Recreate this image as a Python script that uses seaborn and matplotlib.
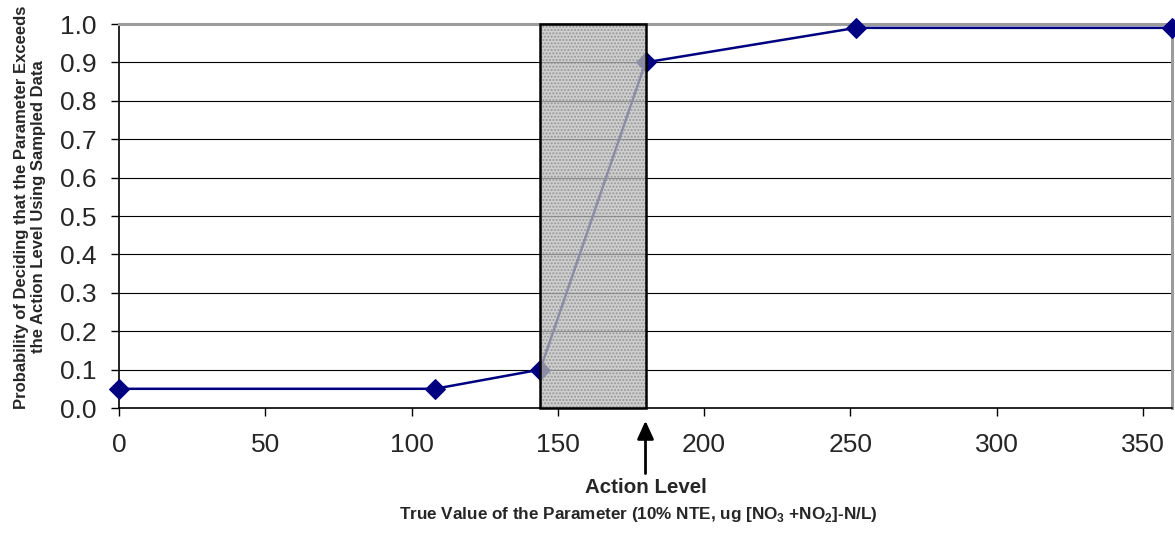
import matplotlib
matplotlib.use("Agg")
import matplotlib.pyplot as plt
import seaborn as sns
import pandas as pd
from matplotlib.patches import Rectangle

true_values = [0, 108, 144, 180, 252, 360]
probabilities = [0.05, 0.05, 0.10, 0.90, 0.99, 0.99]
gray_region = [144, 180]
action_level = 180
x_ticks = [0, 50, 100, 150, 200, 250, 300, 350]
y_ticks = [0.0, 0.1, 0.2, 0.3, 0.4, 0.5, 0.6, 0.7, 0.8, 0.9, 1.0]

sns.set_style("white")
plt.rcParams['font.family'] = ['Liberation Sans', 'DejaVu Sans']
plt.rcParams['mathtext.fontset'] = 'custom'
plt.rcParams['mathtext.rm'] = 'Liberation Sans'
plt.rcParams['mathtext.bf'] = 'Liberation Sans:bold'

df = pd.DataFrame({"x": true_values, "y": probabilities})

fig = plt.figure(figsize=(11.75, 5.33), dpi=100)
ax = fig.add_axes([119/1175, 1-408/533, 1053/1175, 384/533])

for yv in y_ticks[1:-1]:
    ax.axhline(yv, color='black', lw=0.8, zorder=1)

sns.lineplot(data=df, x="x", y="y", ax=ax, color='#000080', marker='D',
             markersize=10, markeredgecolor='#000080', lw=1.8, zorder=3, clip_on=False)
ax.set_xlabel('')
ax.set_ylabel('')

# shaded gray region (stippled)
rect = Rectangle((gray_region[0], 0), gray_region[1]-gray_region[0], 1.0,
                 facecolor='#c0c0c0', edgecolor='#868686', hatch='.....', lw=0,
                 alpha=0.75, zorder=4)
ax.add_patch(rect)
border = Rectangle((gray_region[0], 0), gray_region[1]-gray_region[0], 1.0,
                   facecolor='none', edgecolor='black', lw=1.8, zorder=5, clip_on=False)
ax.add_patch(border)

ax.set_xlim(0, 360)
ax.set_ylim(0, 1.0)
ax.set_xticks(x_ticks)
ax.set_yticks(y_ticks)
ax.set_xticklabels([str(v) for v in x_ticks], fontsize=19)
ax.set_yticklabels([f"{v:.1f}" for v in y_ticks], fontsize=19)
ax.tick_params(axis='both', direction='out', length=6, width=1, color='black',
               bottom=True, left=True)
ax.tick_params(axis='x', pad=12)
ax.tick_params(axis='y', pad=10)

for s in ['left', 'bottom']:
    ax.spines[s].set_color('black')
    ax.spines[s].set_linewidth(1.2)
for s in ['top', 'right']:
    ax.spines[s].set_color('#9c9c9c')
    ax.spines[s].set_linewidth(2.2)
    ax.spines[s].set_visible(True)

fig.text(638/1175, 1-515/533,
         "True Value of the Parameter (10% NTE, ug [NO$_\\mathbf{3}$ +NO$_\\mathbf{2}$]-N/L)",
         ha='center', va='center', fontsize=12.3, fontweight='bold')
fig.text(30/1175, 1-207/533,
         "Probability of Deciding that the Parameter Exceeds\nthe Action Level Using Sampled Data",
         ha='center', va='center', rotation=90, fontsize=12, fontweight='bold',
         linespacing=1.2, multialignment='center')

ax.annotate('', xy=(action_level, -0.026), xytext=(action_level, -0.178),
            xycoords='data', textcoords='data',
            arrowprops=dict(arrowstyle='-|>,head_width=0.5,head_length=1.1',
                            color='black', lw=2), annotation_clip=False)
ax.text(action_level, -0.208, "Action Level", ha='center', va='center',
        fontsize=14.8, fontweight='bold')

fig.savefig("out.png", dpi=100)
